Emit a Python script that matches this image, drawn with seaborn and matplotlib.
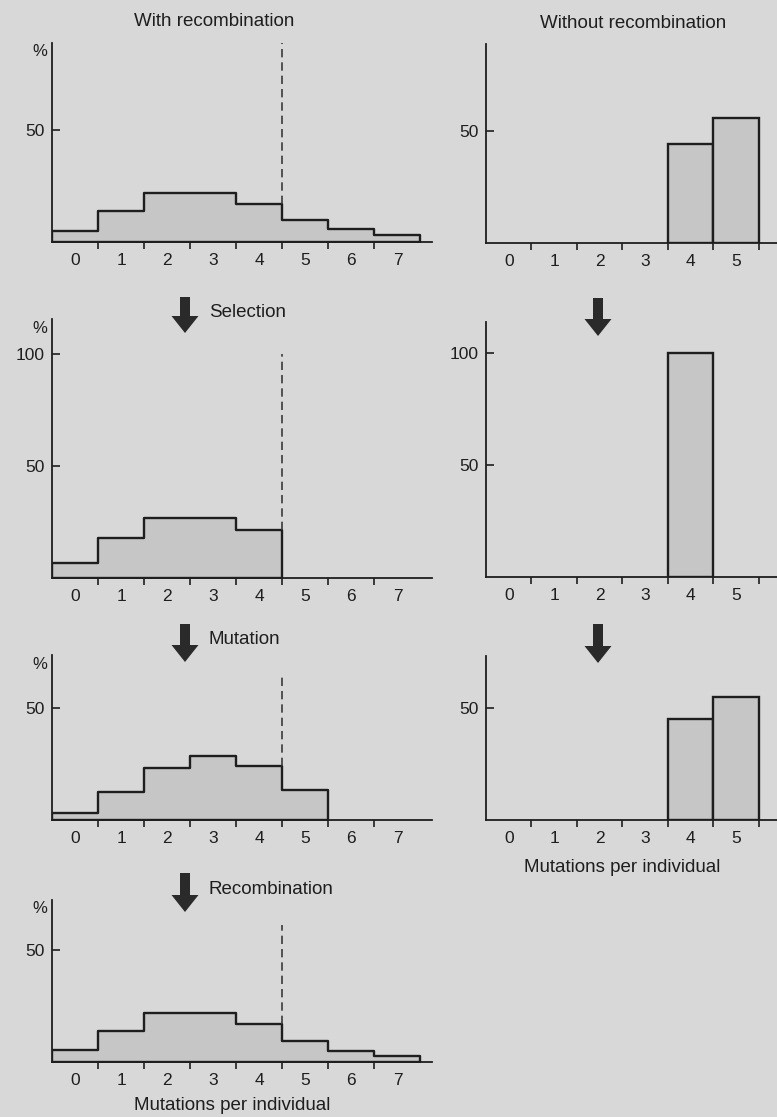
import numpy as np
import matplotlib
matplotlib.use("Agg")
import matplotlib.pyplot as plt
from matplotlib.patches import FancyArrow
import seaborn as sns

# --- data (percent of individuals per mutation class) ---
classes_with = [0, 1, 2, 3, 4, 5, 6, 7]
start_with = [5, 14, 22, 22, 17, 10, 6, 3]
selected_with = [6.5, 18, 27, 27, 21.5]
mutated_with = [3, 12.5, 23, 28.5, 24, 13.5]
recombined_with = [5.5, 14, 22, 22, 17, 9.5, 5, 2.5]

classes_without = [4, 5]
start_without = [44, 56]
selected_without = [100]
mutated_without = [45, 55]

step_labels = ["Selection", "Mutation", "Recombination"]
tick_labels_with = ["0", "1", "2", "3", "4", "5", "6", "7"]
tick_labels_without = ["0", "1", "2", "3", "4", "5"]
cutoff = 4.5

# --- style ---
sns.set_style("ticks")
BG = "#d8d8d8"
FILL = "#c6c6c6"
INK = "#1e1e1e"
plt.rcParams["font.family"] = ["Liberation Sans", "DejaVu Sans"]
plt.rcParams["text.color"] = INK

W, H = 777, 1117
PX_PER_PCT = 2.24

fig = plt.figure(figsize=(W / 100, H / 100), dpi=100, facecolor=BG)


def make_axes(left_px, bottom_px, width_px, ymax):
    h = ymax * PX_PER_PCT
    ax = fig.add_axes([left_px / W, 1 - bottom_px / H, width_px / W, h / H])
    ax.set_facecolor(BG)
    ax.set_ylim(0, ymax)
    return ax


def style_axes(ax, xmax, labels, yticks, pct=True):
    n = len(labels)
    ax.set_xlim(-0.5, xmax)
    sns.despine(ax=ax)
    for s in ["left", "bottom"]:
        ax.spines[s].set_color(INK)
        ax.spines[s].set_linewidth(1.3)
    edges = np.arange(0.5, n - 0.5 + (0 if n == 8 else 1), 1.0)
    ax.set_xticks(edges)
    ax.set_xticklabels([])
    ax.set_xticks(np.arange(n), minor=True)
    ax.set_xticklabels(labels, minor=True)
    ax.tick_params(axis="x", which="major", direction="out", length=5,
                   width=1.2, color=INK)
    ax.tick_params(axis="x", which="minor", length=0, pad=8,
                   labelsize=12.5, labelcolor=INK)
    ax.set_yticks(yticks)
    ax.set_yticklabels([str(t) for t in yticks])
    ax.tick_params(axis="y", direction="in", length=6, width=1.2, color=INK,
                   pad=5, labelsize=12.5, labelcolor=INK)
    ax.set_xlabel("")
    ax.set_ylabel("")
    if pct:
        ax.annotate("%", xy=(0, 1), xycoords="axes fraction",
                    xytext=(-12, -9), textcoords="offset pixels",
                    ha="center", va="center", fontsize=12)


def step_hist(ax, values, top):
    sns.histplot(x=classes_with[:len(values)], weights=values, discrete=True,
                 element="step", fill=True, color=FILL, edgecolor=INK,
                 linewidth=1.7, alpha=1, ax=ax)
    ax.vlines(cutoff, values[4], top, colors="#3a3a3a", linewidth=1.2,
              linestyles=(0, (5, 3)))


def bar_hist(ax, classes, values):
    sns.histplot(x=classes, weights=values, discrete=True, element="bars",
                 fill=True, color=FILL, edgecolor=INK, linewidth=1.7,
                 alpha=1, ax=ax)


def arrow(cx, top, tip):
    a = FancyArrow(cx / W, 1 - top / H, 0, -(tip - top) / H,
                   width=10 / W, head_width=27 / W, head_length=17 / H,
                   length_includes_head=True, transform=fig.transFigure,
                   color="#2a2a2a", lw=0)
    fig.add_artist(a)


# --- left column: with recombination ---
left_series = [start_with, selected_with, mutated_with, recombined_with]
left_bottoms = [242, 578, 820, 1062]
left_ymax = [89, 115.5, 73.5, 72.5]
left_cut_top = [89, 100, 64, 61]
for vals, b, ym, ct in zip(left_series, left_bottoms, left_ymax, left_cut_top):
    ax = make_axes(52, b, 380, ym)
    step_hist(ax, vals, ct)
    yt = [50, 100] if ym > 100 else [50]
    style_axes(ax, 7.75, tick_labels_with, yt)

# --- right column: without recombination ---
right_series = [start_without, selected_without, mutated_without]
right_classes = [classes_without, classes_without[:1], classes_without]
right_bottoms = [243, 577, 820]
right_ymax = [89, 114, 73]
for cls, vals, b, ym in zip(right_classes, right_series, right_bottoms, right_ymax):
    ax = make_axes(486, b, 291, ym)
    bar_hist(ax, cls, vals)
    yt = [50, 100] if ym > 100 else [50]
    style_axes(ax, 5.9, tick_labels_without, yt, pct=False)

# --- titles, arrows, step labels ---
fig.text(214 / W, 1 - 22 / H, "With recombination", ha="center", va="center",
         fontsize=13.5)
fig.text(633 / W, 1 - 23 / H, "Without recombination", ha="center",
         va="center", fontsize=13.5)

for lab, top, tip in zip(step_labels, [297, 624, 873], [333, 662, 912]):
    arrow(185, top, tip)
    fig.text(209 / W, 1 - (top + 16) / H, lab, ha="left", va="center",
             fontsize=13.5)
for top, tip in zip([298, 624], [336, 663]):
    arrow(598, top, tip)

fig.text(232 / W, 1 - 1106 / H, "Mutations per individual", ha="center",
         va="center", fontsize=13.5)
fig.text(622 / W, 1 - 867 / H, "Mutations per individual", ha="center",
         va="center", fontsize=13.5)

fig.savefig("out.png", dpi=100, facecolor=BG)
